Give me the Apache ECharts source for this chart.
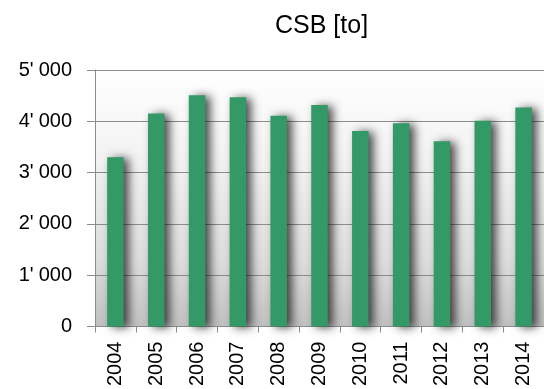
<!DOCTYPE html>
<html>
<head>
<meta charset="utf-8">
<script src="https://cdn.jsdelivr.net/npm/echarts@6/dist/echarts.min.js"></script>
<style>
  html, body { margin: 0; padding: 0; background: #ffffff; }
  #chart { width: 544px; height: 389px; }
</style>
</head>
<body>
<div id="chart"></div>
<script>
// Annual CSB tonnage, 2004–2014
const years = ['2004', '2005', '2006', '2007', '2008', '2009', '2010', '2011', '2012', '2013', '2014'];
const tonnes = [3300, 4150, 4510, 4470, 4110, 4320, 3810, 3960, 3610, 4010, 4270];
const yTicks = [0, 1000, 2000, 3000, 4000, 5000];

const fontFamily = 'Liberation Sans, Arial, sans-serif';

// Swiss-style thousands separator with a little air after it
function fmtThousands(v) {
  return String(v).replace(/\B(?=(\d{3})+(?!\d))/g, "'\u2005");
}

const chart = echarts.init(document.getElementById('chart'), null, { renderer: 'canvas' });

chart.setOption({
  animation: false,
  backgroundColor: '#ffffff',
  title: {
    text: 'CSB [to]',
    left: 270,
    top: 9,
    textStyle: { fontFamily, fontSize: 25, fontWeight: 'normal', color: '#000000' }
  },
  grid: {
    left: 95,
    top: 70,
    bottom: 62,
    width: 456.5,
    show: true,
    borderWidth: 0,
    backgroundColor: {
      type: 'linear', x: 0, y: 0, x2: 0, y2: 1,
      colorStops: [
        { offset: 0, color: '#ffffff' },
        { offset: 0.35, color: '#f2f2f2' },
        { offset: 0.75, color: '#dcdcdc' },
        { offset: 1, color: '#c0c0c0' }
      ]
    }
  },
  xAxis: {
    type: 'category',
    data: years,
    axisLine: { show: true, lineStyle: { color: '#8c8c8c', width: 1 } },
    axisTick: { show: true, alignWithLabel: false, length: 6, lineStyle: { color: '#8c8c8c' } },
    axisLabel: {
      rotate: 90,
      margin: 15,
      interval: 0,
      fontFamily, fontSize: 20, color: '#000000'
    }
  },
  yAxis: {
    type: 'value',
    min: yTicks[0],
    max: yTicks[yTicks.length - 1],
    interval: 1000,
    axisLine: { show: true, lineStyle: { color: '#8c8c8c', width: 1 } },
    axisTick: { show: true, length: 8, lineStyle: { color: '#8c8c8c' } },
    splitLine: { show: true, lineStyle: { color: '#8c8c8c', width: 1 } },
    axisLabel: {
      margin: 23,
      fontFamily, fontSize: 20, color: '#000000',
      formatter: fmtThousands
    }
  },
  series: [{
    type: 'bar',
    data: tonnes,
    barWidth: 16.5,
    itemStyle: {
      color: '#339966',
      shadowColor: 'rgba(0,0,0,0.7)',
      shadowBlur: 10,
      shadowOffsetX: 5,
      shadowOffsetY: 1
    }
  }]
});
</script>
</body>
</html>
